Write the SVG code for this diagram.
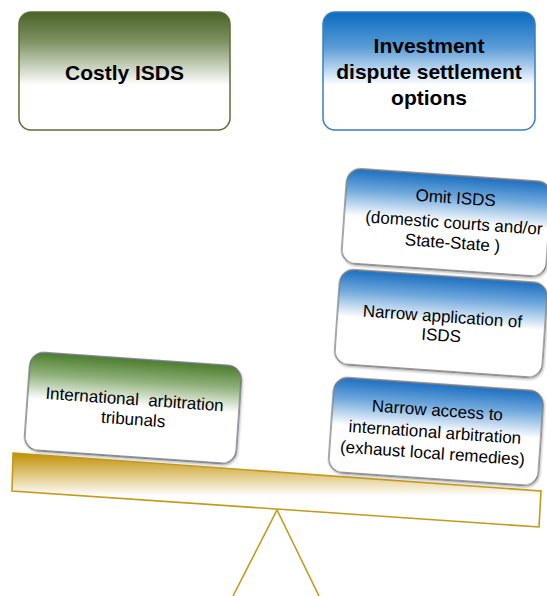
<svg xmlns="http://www.w3.org/2000/svg" width="547" height="596" viewBox="0 0 547 596">
  <defs>
    <linearGradient id="gGreenTop" x1="0" y1="0" x2="0" y2="1">
      <stop offset="0" stop-color="#4a6226"/>
      <stop offset="0.25" stop-color="#7e9263"/>
      <stop offset="0.62" stop-color="#ffffff"/>
    </linearGradient>
    <linearGradient id="gBlueTop" x1="0" y1="0" x2="0" y2="1">
      <stop offset="0" stop-color="#0a6cc0"/>
      <stop offset="0.3" stop-color="#5a9cd6"/>
      <stop offset="0.62" stop-color="#ffffff"/>
    </linearGradient>
    <linearGradient id="gBlue" x1="0" y1="0" x2="0" y2="1">
      <stop offset="0" stop-color="#1b6fc0"/>
      <stop offset="0.22" stop-color="#6ea7dc"/>
      <stop offset="0.5" stop-color="#ffffff"/>
    </linearGradient>
    <linearGradient id="gGreen" x1="0" y1="0" x2="0" y2="1">
      <stop offset="0" stop-color="#4c7d2c"/>
      <stop offset="0.22" stop-color="#8fb07a"/>
      <stop offset="0.48" stop-color="#ffffff"/>
    </linearGradient>
    <linearGradient id="gBeam" gradientUnits="userSpaceOnUse" x1="0" y1="453" x2="0" y2="496">
      <stop offset="0" stop-color="#bf8f00"/>
      <stop offset="1" stop-color="#ffffff"/>
    </linearGradient>
    <filter id="shadow" x="-10%" y="-10%" width="125%" height="130%">
      <feDropShadow dx="1" dy="1.5" stdDeviation="1" flood-color="#000" flood-opacity="0.3"/>
    </filter>
    <style>
      .title { font-family: "Liberation Sans", Arial, sans-serif; font-weight: bold; font-size: 21px; fill: #000; text-anchor: middle; }
      .lbl { font-family: "Liberation Sans", Arial, sans-serif; font-size: 17px; fill: #000; text-anchor: middle; }
      .opt { fill: url(#gBlue); stroke: #7a7a7a; stroke-width: 1.3; filter: url(#shadow); }
      .gold { stroke: #c49a1c; stroke-width: 1.6; }
    </style>
  </defs>

  <g id="costly-isds">
    <rect x="19" y="12" width="211" height="118" rx="12" fill="url(#gGreenTop)" stroke="#5a6f34" stroke-width="1.5"/>
    <text class="title" x="124.5" y="80">Costly ISDS</text>
  </g>

  <g id="investment-options">
    <rect x="323" y="12" width="212" height="118" rx="12" fill="url(#gBlueTop)" stroke="#3a7fc4" stroke-width="1.5"/>
    <text class="title" x="429" y="53">Investment</text>
    <text class="title" x="429" y="79">dispute settlement</text>
    <text class="title" x="429" y="105">options</text>
  </g>

  <g id="beam">
    <polygon points="13,453 541,491 539,527 12,491" fill="url(#gBeam)" class="gold"/>
  </g>

  <g id="fulcrum">
    <polyline points="233,596 277,510 319,596" fill="none" class="gold"/>
  </g>

  <g id="international-arbitration" transform="translate(133,408) rotate(4)">
    <rect x="-106" y="-49" width="212" height="98" rx="14" fill="url(#gGreen)" stroke="#6b7077" stroke-width="1.3" filter="url(#shadow)"/>
    <text class="lbl" x="1" y="-3" xml:space="preserve">International  arbitration</text>
    <text class="lbl" x="1" y="17">tribunals</text>
  </g>

  <g id="omit-isds" transform="translate(446,222) rotate(4)">
    <rect class="opt" x="-102" y="-47" width="205" height="95" rx="14"/>
    <text class="lbl" x="8" y="-19">Omit ISDS</text>
    <text class="lbl" x="8" y="6">(domestic courts and/or</text>
    <text class="lbl" x="8" y="26">State-State )</text>
  </g>

  <g id="narrow-application" transform="translate(441,323) rotate(4)">
    <rect class="opt" x="-104" y="-47" width="208" height="95" rx="14"/>
    <text class="lbl" x="1" y="-1">Narrow application of</text>
    <text class="lbl" x="1" y="18">ISDS</text>
  </g>

  <g id="narrow-access" transform="translate(436,431) rotate(4)">
    <rect class="opt" x="-105" y="-47" width="210" height="95" rx="14"/>
    <text class="lbl" x="0" y="-15">Narrow access to</text>
    <text class="lbl" x="-1" y="7">international arbitration</text>
    <text class="lbl" x="-2" y="28">(exhaust local remedies)</text>
  </g>
</svg>
